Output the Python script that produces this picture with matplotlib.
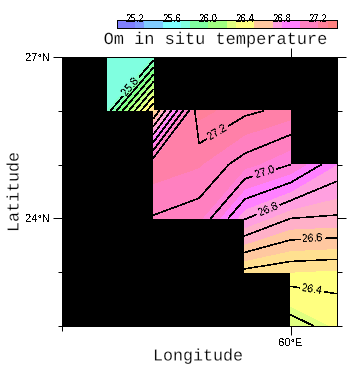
import numpy as np
import matplotlib
matplotlib.use("Agg")
import matplotlib.pyplot as plt
import matplotlib.patheffects as pe

plt.rcParams['text.antialiased'] = False
W, H = 363, 371

lons = [55, 56, 57, 58, 59, 60, 61]
lats = [22, 23, 24, 25, 26, 27]
n = np.nan
temp_22 = [n, n, n, n, n, 26.26, 26.34]
temp_23 = [n, n, n, n, 26.48, 26.45, 26.44]
temp_24 = [n, n, 27.095, 27.067, 26.805, 26.70, 26.69]
temp_25 = [n, n, 27.18, 27.155, 27.07, 27.00, 26.85]
temp_26 = [n, 25.75, 26.50, 27.27, 27.214, 27.18, n]
temp_27 = [n, 25.70, 25.75, n, n, n, n]

band_colors = ['#8080FF', '#8099FF', '#80B3FF', '#80CCFF', '#80E6FF', '#80FFFF',
               '#80FFE0', '#80FFC8', '#80FFA0', '#80FF80', '#A0FF80', '#C0FF80',
               '#E0FF80', '#FFFF80', '#FFE090', '#FFC8A0', '#FFB0C8', '#FFA0E0',
               '#FF80FF', '#FF80D8', '#FF80C0', '#FF80A8', '#FF809A', '#FF8080']
band_edges = [25.05, 25.15, 25.25, 25.35, 25.45, 25.55, 25.65, 25.75, 25.85, 25.95,
              26.05, 26.15, 26.25, 26.33, 26.45, 26.55, 26.65, 26.75, 26.85, 26.95,
              27.05, 27.15, 27.25, 27.35, 27.45]
plain_levels = [25.9, 26.0, 26.1, 26.2, 26.3, 26.5, 26.7, 26.9, 27.1]
label_levels = [25.8, 26.4, 26.6, 26.8, 27.0, 27.2]
label_spots = [(56.53, 26.44), (60.48, 22.76), (60.48, 23.64),
               (59.50, 24.19), (59.44, 24.84), (58.34, 25.68)]
bar_edges = [25.05, 25.15, 25.25, 25.35, 25.45, 25.55, 25.65, 25.75, 25.85, 25.95,
             26.05, 26.15, 26.25, 26.35, 26.45, 26.55, 26.65, 26.75, 26.85, 26.95,
             27.05, 27.15, 27.25, 27.35, 27.45]
bar_ticks = [25.2, 25.6, 26.0, 26.4, 26.8, 27.2]

SANS = 'Liberation Sans'
MONO = 'Liberation Mono'
px = 0.72
thin = 0.36
erode = [pe.Stroke(linewidth=0.18, foreground='white')]


def box(l, t, r, b):
    return [l / W, 1 - b / H, (r - l) / W, (b - t) / H]


fig = plt.figure(figsize=(W / 100, H / 100), dpi=100, facecolor='white')
ax = fig.add_axes(box(61.5, 57, 336.5, 326), facecolor='black')
Z = np.ma.masked_invalid(np.array([temp_22, temp_23, temp_24, temp_25, temp_26, temp_27]))
ax.contourf(lons, lats, Z, levels=band_edges, colors=band_colors, antialiased=False,
            corner_mask=False)
ax.contour(lons, lats, Z, levels=plain_levels, colors='black', corner_mask=False,
           linewidths=thin, antialiased=False)
cs = ax.contour(lons, lats, Z, levels=label_levels, colors='black', corner_mask=False,
                linewidths=thin, antialiased=False)
ax.set_xlim(55, 61)
ax.set_ylim(22, 27)
labels = ax.clabel(cs, fmt='%.1f', fontsize=7.5, colors='black',
                   manual=label_spots, inline=True, inline_spacing=1)
for t in labels:
    t.set_family(SANS)

ax.set_xticks([55], labels=[''], minor=True)
ax.set_xticks([60], labels=['60°E'], family=SANS, fontsize=8)
ax.set_yticks([22, 23, 25, 26], labels=[''] * 4, minor=True)
ax.set_yticks([24, 27], labels=['24°N', '27°N'], family=SANS, fontsize=8)
ax.tick_params(which='major', length=9 * px, width=px, pad=2, direction='out',
               right=True, top=True)
ax.tick_params(which='minor', length=4.5 * px, width=px, direction='out',
               right=True, top=False)
for s in ax.spines.values():
    s.set_linewidth(px)

fig.text(215 / W, 1 - 39.5 / H, 'Om in situ temperature', family=MONO, fontsize=12.2,
         ha='center', va='center', antialiased=True, path_effects=erode)
fig.text(198 / W, 1 - 356 / H, 'Longitude', family=MONO, fontsize=12,
         ha='center', va='center', antialiased=True, path_effects=erode)
fig.text(14 / W, 1 - 192 / H, 'Latitude', family=MONO, fontsize=12,
         rotation=90, ha='center', va='center', antialiased=True, path_effects=erode)

cax = fig.add_axes(box(116.7, 19.5, 336.7, 28))
cax.pcolormesh(bar_edges, [0, 1], np.array([bar_edges[:-1]]),
               cmap=matplotlib.colors.ListedColormap(band_colors),
               vmin=bar_edges[0], vmax=bar_edges[-1], antialiased=False)
cax.set_yticks([])
cax.set_xticks([])
for s in cax.spines.values():
    s.set_linewidth(px)
for v in bar_ticks:
    cax.annotate(f'{v:.1f}', xy=(v + 0.05, 1), xycoords=('data', 'axes fraction'),
                 ha='center', va='center', family=SANS, fontsize=7)

fig.savefig('out.png', dpi=100, facecolor='white')
